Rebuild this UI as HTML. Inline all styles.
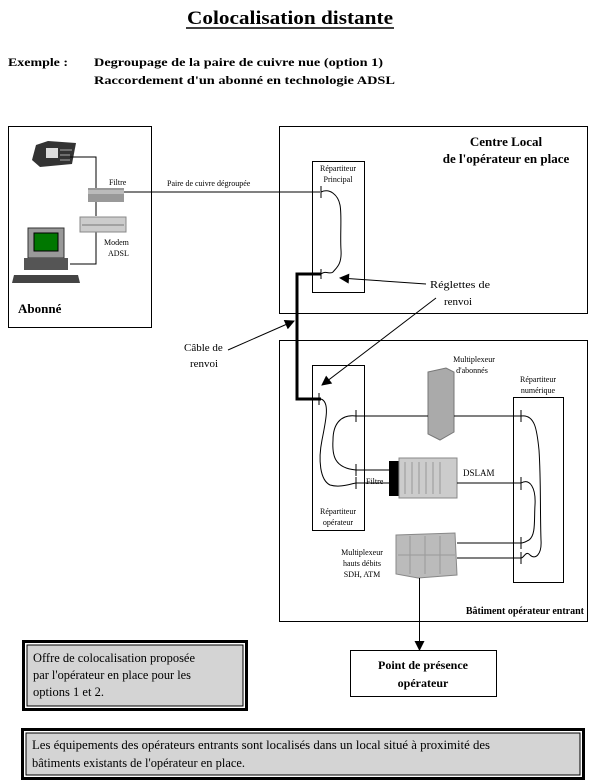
<!DOCTYPE html>
<html><head><meta charset="utf-8"><style>
html,body{margin:0;padding:0;background:#fff;}
svg{display:block;}
text{font-family:"Liberation Serif",serif;fill:#000;}
</style></head><body>
<svg width="605" height="781" viewBox="0 0 605 781" xmlns="http://www.w3.org/2000/svg">
<defs>
<marker id="ah" viewBox="0 0 10 10" refX="9" refY="5" markerWidth="14" markerHeight="10" markerUnits="userSpaceOnUse" orient="auto"><path d="M0,0 L10,5 L0,10 z" fill="#000"/></marker>
</defs>
<text x="187" y="24" font-size="19" font-weight="bold" textLength="206" lengthAdjust="spacingAndGlyphs">Colocalisation distante</text>
<line x1="186" y1="28" x2="394" y2="28" stroke="#000" stroke-width="1.5"/>
<text x="8" y="66" font-size="12" font-weight="bold" textLength="60" lengthAdjust="spacingAndGlyphs">Exemple :</text>
<text x="94" y="66" font-size="12" font-weight="bold" textLength="289" lengthAdjust="spacingAndGlyphs">Degroupage de la paire de cuivre nue (option 1)</text>
<text x="94" y="84" font-size="12" font-weight="bold" textLength="301" lengthAdjust="spacingAndGlyphs">Raccordement d'un abonné en technologie ADSL</text>

<rect x="8.5" y="126.5" width="143" height="201" fill="none" stroke="#000"/>
<text x="18" y="313" font-size="13" font-weight="bold">Abonné</text>
<g>
<polygon points="36,145 48,141 76,143 72,164 40,167 32,160" fill="#333"/>
<rect x="46" y="148" width="12" height="10" fill="#ddd"/>
<path d="M60,150 l12,0 M60,155 l10,0 M60,160 l10,0" stroke="#aaa"/>
</g>
<polyline points="70,157 96,157 96,190" fill="none" stroke="#000"/>
<line x1="96" y1="202" x2="96" y2="216" stroke="#000"/>
<polyline points="70,264 96,264 96,232" fill="none" stroke="#000"/>
<text x="109" y="185" font-size="8">Filtre</text>
<rect x="88" y="188" width="36" height="14" fill="#999"/><rect x="88" y="190" width="36" height="4" fill="#bbb"/>
<rect x="80" y="217" width="46" height="15" fill="#ccc" stroke="#888"/><line x1="82" y1="225" x2="124" y2="225" stroke="#777"/>
<text x="104" y="245" font-size="8">Modem</text>
<text x="108" y="256" font-size="8">ADSL</text>
<rect x="28" y="228" width="36" height="30" fill="#999" stroke="#333"/>
<rect x="34" y="233" width="24" height="18" fill="#070" stroke="#000"/>
<rect x="24" y="258" width="44" height="12" fill="#555"/>
<polygon points="14,275 78,275 80,283 12,283" fill="#444"/>
<line x1="124" y1="192" x2="320" y2="192" stroke="#000"/>
<text x="167" y="186" font-size="8">Paire de cuivre dégroupée</text>

<rect x="279.5" y="126.5" width="308" height="187" fill="none" stroke="#000"/>
<text x="506" y="146" font-size="13" font-weight="bold" text-anchor="middle">Centre Local</text>
<text x="506" y="163" font-size="13" font-weight="bold" text-anchor="middle">de l'opérateur en place</text>
<rect x="312.5" y="161.5" width="52" height="131" fill="none" stroke="#000"/>
<text x="338" y="171" font-size="8" text-anchor="middle">Répartiteur</text>
<text x="338" y="182" font-size="8" text-anchor="middle">Principal</text>
<line x1="321" y1="186" x2="321" y2="198" stroke="#000"/>
<line x1="321" y1="269" x2="321" y2="279" stroke="#000"/>
<path d="M321,192 C330,188 338,195 340,205 C342,215 340,235 341,250 C342,265 336,268 333,272 C330,275 326,270 321,274" fill="none" stroke="#000"/>
<polyline points="321,274 297,274 297,399 321,399" fill="none" stroke="#000" stroke-width="3"/>
<text x="430" y="288" font-size="11" textLength="60" lengthAdjust="spacingAndGlyphs">Réglettes de</text>
<text x="444" y="305" font-size="11">renvoi</text>
<line x1="426" y1="284" x2="340" y2="278" stroke="#000" marker-end="url(#ah)"/>
<line x1="436" y1="298" x2="322" y2="385" stroke="#000" marker-end="url(#ah)"/>
<text x="184" y="351" font-size="11">Câble de</text>
<text x="190" y="367" font-size="11">renvoi</text>
<line x1="228" y1="350" x2="294" y2="321" stroke="#000" marker-end="url(#ah)"/>

<rect x="279.5" y="340.5" width="308" height="281" fill="none" stroke="#000"/>
<text x="584" y="614" font-size="10" font-weight="bold" text-anchor="end">Bâtiment opérateur entrant</text>
<rect x="312.5" y="365.5" width="52" height="165" fill="none" stroke="#000"/>
<text x="338" y="514" font-size="8" text-anchor="middle">Répartiteur</text>
<text x="338" y="525" font-size="8" text-anchor="middle">opérateur</text>
<line x1="319" y1="393" x2="319" y2="405" stroke="#000"/>
<line x1="356" y1="410" x2="356" y2="422" stroke="#000"/>
<line x1="356" y1="464" x2="356" y2="476" stroke="#000"/>
<line x1="356" y1="477" x2="356" y2="489" stroke="#000"/>
<path d="M321,399 C330,402 326,420 322,440 C318,460 320,480 330,485 C340,488 350,484 356,483" fill="none" stroke="#000"/>
<path d="M356,416 C340,414 333,425 333,440 C332,455 334,468 356,470" fill="none" stroke="#000"/>
<polygon points="428,372 446,368 454,372 454,432 440,440 428,434" fill="#aaa" stroke="#777"/>
<text x="474" y="362" font-size="8" text-anchor="middle">Multiplexeur</text>
<text x="472" y="373" font-size="8" text-anchor="middle">d'abonnés</text>
<line x1="356" y1="416" x2="428" y2="416" stroke="#000"/>
<line x1="454" y1="416" x2="521" y2="416" stroke="#000"/>
<text x="538" y="382" font-size="8" text-anchor="middle">Répartiteur</text>
<text x="538" y="393" font-size="8" text-anchor="middle">numérique</text>
<rect x="513.5" y="397.5" width="50" height="185" fill="none" stroke="#000"/>
<line x1="521" y1="410" x2="521" y2="422" stroke="#000"/>
<line x1="521" y1="477" x2="521" y2="490" stroke="#000"/>
<line x1="521" y1="537" x2="521" y2="549" stroke="#000"/>
<line x1="521" y1="552" x2="521" y2="564" stroke="#000"/>
<path d="M521,416 C535,414 537,430 539,450 C541,480 540,510 541,540 C542,555 535,560 530,555 C526,550 524,558 521,558" fill="none" stroke="#000"/>
<path d="M521,483 C530,478 536,488 535,505 C534,520 536,535 529,540 C525,542 524,543 521,543" fill="none" stroke="#000"/>
<rect x="389" y="461" width="10" height="35" fill="#000"/>
<rect x="399" y="458" width="58" height="40" fill="#ccc" stroke="#888"/>
<path d="M405,462 v32 M412,462 v32 M419,462 v32 M426,462 v32 M433,462 v32 M440,462 v32" stroke="#999"/>
<text x="463" y="476" font-size="9">DSLAM</text>
<line x1="356" y1="470" x2="389" y2="470" stroke="#000"/>
<line x1="356" y1="483" x2="389" y2="483" stroke="#000"/>
<text x="366" y="484" font-size="8">Filtre</text>
<line x1="457" y1="483" x2="521" y2="483" stroke="#000"/>
<polygon points="396,535 455,533 457,575 418,578 396,574" fill="#bbb" stroke="#888"/>
<path d="M398,555 h57 M410,536 v38 M425,536 v38 M440,536 v38" stroke="#999"/>
<text x="362" y="555" font-size="8" text-anchor="middle">Multiplexeur</text>
<text x="362" y="566" font-size="8" text-anchor="middle">hauts débits</text>
<text x="362" y="577" font-size="8" text-anchor="middle">SDH, ATM</text>
<line x1="457" y1="543" x2="521" y2="543" stroke="#000"/>
<line x1="457" y1="558" x2="521" y2="558" stroke="#000"/>
<line x1="419.5" y1="578" x2="419.5" y2="650" stroke="#000" marker-end="url(#ah)"/>
<rect x="350.5" y="650.5" width="146" height="46" fill="#fff" stroke="#000"/>
<text x="423" y="669" font-size="12" font-weight="bold" text-anchor="middle">Point de présence</text>
<text x="423" y="687" font-size="12" font-weight="bold" text-anchor="middle">opérateur</text>
<rect x="22" y="640" width="226" height="71" fill="#000"/>
<rect x="25" y="643" width="220" height="65" fill="#fff"/>
<rect x="27" y="645" width="216" height="61" fill="#d4d4d4" stroke="#000"/>
<text x="33" y="662" font-size="12.5" textLength="162" lengthAdjust="spacingAndGlyphs">Offre de colocalisation proposée</text>
<text x="33" y="679" font-size="12.5" textLength="158" lengthAdjust="spacingAndGlyphs">par l'opérateur en place pour les</text>
<text x="33" y="696" font-size="12.5" textLength="71" lengthAdjust="spacingAndGlyphs">options 1 et 2.</text>
<rect x="21" y="728" width="564" height="52" fill="#000"/>
<rect x="24" y="731" width="558" height="46" fill="#fff"/>
<rect x="26" y="733" width="554" height="42" fill="#d4d4d4" stroke="#000"/>
<text x="32" y="749" font-size="12.5" textLength="458" lengthAdjust="spacingAndGlyphs">Les équipements des opérateurs entrants sont localisés dans un local situé à proximité des</text>
<text x="32" y="767" font-size="12.5" textLength="213" lengthAdjust="spacingAndGlyphs">bâtiments existants de  l'opérateur en place.</text>
</svg>
</body></html>
